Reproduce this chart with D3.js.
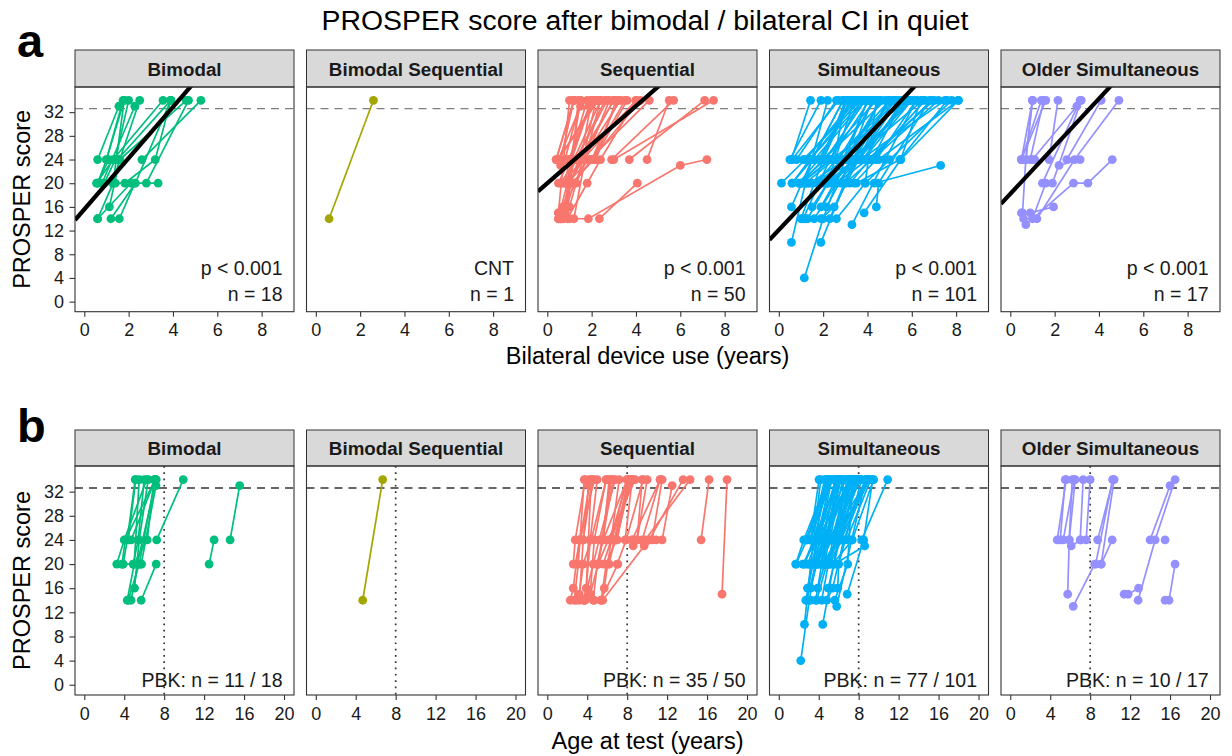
<!DOCTYPE html>
<html>
<head>
<meta charset="utf-8">
<script src="https://cdn.jsdelivr.net/npm/d3@7"></script>
<style>
  body { margin: 0; background: #fff; }
  svg text { font-family: "Liberation Sans", Arial, sans-serif; }
</style>
</head>
<body>
<svg id="chart" width="1232" height="756"></svg>
<script>
// grupos y colores (paleta ggplot)
const groups = ["Bimodal", "Bimodal Sequential", "Sequential", "Simultaneous", "Older Simultaneous"];
const groupColors = ["#00BF7D", "#A3A500", "#F8766D", "#00B0F6", "#9590FF"];

const pLabels = ["p < 0.001", "CNT", "p < 0.001", "p < 0.001", "p < 0.001"];
const nLabels = ["n = 18", "n = 1", "n = 50", "n = 101", "n = 17"];
const pbkLabels = ["PBK: n = 11 / 18", "", "PBK: n = 35 / 50", "PBK: n = 77 / 101", "PBK: n = 10 / 17"];

// recta de regresion (score = intercept + slope * years)
const regIntercept = [15.6, null, 20.0, 12.1, 18.2];
const regSlope = [4.32, null, 3.26, 3.96, 4.02];

const yTicks = [0, 4, 8, 12, 16, 20, 24, 28, 32];
const xTicksUse = [0, 2, 4, 6, 8];
const xTicksAge = [0, 4, 8, 12, 16, 20];
const targetScore = 32.6;
const ageCutoff = 8;

// cada sujeto: [edad al implante bilateral, [[anos de uso, PROSPER], ...]]
const bimodalSubjects = [
  [3.7, [[0.6, 14], [1.3, 20], [1.8, 34]]],
  [3.2, [[1.2, 14], [2.3, 20], [3.9, 34]]],
  [5.1, [[0.6, 14], [2.1, 20]]],
  [3.9, [[1.13, 16], [1.6, 24], [2.5, 34]]],
  [2.7, [[0.55, 20], [1.3, 24], [3.55, 34]]],
  [14.0, [[0.6, 24], [1.56, 33]]],
  [4.9, [[0.8, 20], [2.28, 33]]],
  [3.4, [[1.0, 24], [1.75, 34]]],
  [2.5, [[1.28, 20], [1.6, 24], [4.6, 34]]],
  [4.65, [[2.6, 24], [5.26, 34]]],
  [11.9, [[0.6, 20], [1.1, 24]]],
  [3.1, [[1.83, 20], [3.2, 24], [3.9, 34]]],
  [2.4, [[1.4, 20], [3.33, 20]]],
  [2.5, [[2.8, 20], [4.7, 34]]],
  [3.3, [[0.6, 20], [1.0, 24], [1.8, 34]]],
  [4.0, [[0.9, 20], [1.4, 24], [2.0, 34]]],
  [3.2, [[1.5, 24], [3.9, 34]]],
  [3.1, [[1.58, 14], [2.28, 20]]]
];

const bimodalSeqSubjects = [
  [4.1, [[0.6, 14], [2.6, 34]]]
];

const sequentialSubjects = [
  [17.0, [[0.5, 15], [1.0, 34]]],
  [15.0, [[0.4, 24], [1.2, 34]]],
  [11.0, [[0.5, 24], [1.5, 33]]],
  [6.8, [[3.0, 24], [7.5, 34]]],
  [6.5, [[3.7, 24], [7.1, 34]]],
  [6.0, [[4.5, 24], [5.5, 34]]],
  [5.6, [[2.9, 24], [5.7, 34]]],
  [3.7, [[1.0, 14], [1.85, 14], [6.0, 23], [7.2, 24]]],
  [3.0, [[2.35, 14], [4.06, 20]]],
  [2.2, [[0.5, 14], [0.9, 20], [1.5, 34]]],
  [2.5, [[0.7, 14], [1.1, 24], [2.0, 34]]],
  [1.6, [[0.7, 14], [1.0, 16], [1.6, 24]]],
  [3.0, [[0.6, 14], [0.9, 16], [1.4, 34]]],
  [2.0, [[0.8, 20], [1.3, 24], [2.7, 34]]],
  [4.0, [[0.6, 14], [1.0, 20], [1.6, 24], [2.2, 34]]],
  [3.5, [[0.8, 15], [1.2, 24], [2.4, 34]]],
  [4.5, [[0.5, 20], [1.0, 24], [1.8, 34]]],
  [5.0, [[0.7, 16], [1.4, 24], [3.0, 34]]],
  [2.8, [[0.9, 14], [1.8, 20], [2.4, 24], [4.0, 34]]],
  [6.0, [[0.4, 24], [1.2, 34]]],
  [5.5, [[0.6, 20], [1.3, 24], [2.6, 34]]],
  [7.0, [[0.8, 24], [1.5, 34]]],
  [4.2, [[0.9, 20], [1.9, 24], [4.6, 34]]],
  [3.3, [[1.0, 24], [2.2, 24], [3.1, 34]]],
  [8.0, [[0.6, 23], [1.0, 24], [2.0, 34]]],
  [7.5, [[1.0, 24], [1.5, 24], [2.0, 34]]],
  [2.4, [[0.5, 14], [0.8, 15], [1.2, 20], [2.0, 24], [3.5, 34]]],
  [4.8, [[0.6, 14], [1.1, 20], [2.1, 24], [3.6, 34]]],
  [6.3, [[0.7, 20], [1.6, 24], [3.3, 34]]],
  [9.0, [[0.5, 24], [2.3, 34]]],
  [3.8, [[0.5, 15], [1.3, 20], [2.8, 34]]],
  [5.2, [[1.0, 20], [1.5, 24], [3.0, 34]]],
  [2.6, [[1.2, 14], [1.7, 24], [2.4, 34]]],
  [4.4, [[1.2, 20], [2.0, 24], [4.2, 34]]],
  [3.0, [[0.6, 24], [1.2, 34]]],
  [5.8, [[0.5, 24], [2.2, 34]]],
  [1.8, [[0.8, 20], [1.0, 24], [2.0, 34]]],
  [4.0, [[1.6, 24], [4.0, 34]]],
  [2.3, [[1.0, 24], [1.9, 33]]],
  [5.0, [[2.0, 24], [3.2, 34]]]
];

const simultaneousSubjects = [
  [1.05, [[1.15, 4], [2.0, 14], [4.0, 34]]],
  [1.6, [[0.12, 20], [1.2, 24], [3.5, 34]]],
  [2.6, [[0.57, 24], [1.43, 34]]],
  [2.3, [[0.57, 16], [1.5, 24], [2.9, 34]]],
  [2.0, [[0.57, 10], [1.2, 20], [2.2, 34]]],
  [2.5, [[1.9, 10], [3.0, 20], [4.5, 34]]],
  [2.8, [[2.15, 16], [3.3, 24], [5.0, 34]]],
  [3.0, [[3.85, 15], [5.5, 24], [6.4, 34]]],
  [1.3, [[4.3, 20], [7.3, 23]]],
  [2.5, [[3.3, 13], [4.8, 24], [6.2, 34]]],
  [2.7, [[1.0, 14], [2.0, 24], [3.2, 34]]],
  [1.5, [[1.3, 14], [2.2, 20], [3.0, 24], [5.5, 34]]],
  [1.7, [[0.9, 20], [1.8, 24], [3.3, 34]]],
  [2.2, [[1.6, 14], [2.6, 20], [3.6, 24], [5.2, 34]]],
  [3.0, [[2.6, 14], [3.9, 20], [4.4, 34]]],
  [1.2, [[2.0, 20], [3.1, 24], [4.6, 34]]],
  [1.4, [[1.0, 20], [2.4, 24], [5.8, 34]]],
  [2.0, [[2.2, 24], [3.8, 24], [6.0, 34]]],
  [1.8, [[1.5, 20], [2.8, 20], [4.2, 34]]],
  [2.4, [[0.8, 24], [2.6, 34]]],
  [1.5, [[4.4, 16], [4.5, 20], [6.8, 34]]],
  [3.5, [[1.2, 20], [2.5, 24], [3.0, 34]]],
  [1.3, [[1.4, 24], [3.6, 34]]],
  [1.9, [[2.6, 20], [4.0, 24], [7.0, 34]]],
  [1.9, [[3.5, 20], [5.46, 24], [7.6, 34]]],
  [1.0, [[3.0, 24], [4.5, 24], [8.1, 34]]],
  [2.8, [[5.5, 24], [8.1, 34]]],
  [1.6, [[1.8, 20], [2.9, 24], [4.0, 34]]],
  [2.0, [[1.2, 14], [2.3, 14], [3.4, 24], [5.0, 34]]],
  [1.7, [[2.4, 20], [3.3, 24], [6.5, 34]]],
  [2.4, [[2.0, 24], [4.8, 34]]],
  [1.1, [[0.6, 20], [1.4, 24], [3.8, 34]]],
  [2.6, [[1.5, 24], [2.8, 24], [5.3, 34]]],
  [1.8, [[3.2, 20], [4.1, 24], [6.9, 34]]],
  [3.2, [[0.9, 20], [2.1, 24], [3.9, 34]]],
  [2.2, [[0.6, 24], [2.7, 34]]],
  [2.9, [[1.9, 14], [2.5, 16], [3.6, 24], [5.9, 34]]],
  [1.4, [[2.2, 20], [3.7, 24], [7.5, 34]]],
  [2.3, [[1.4, 20], [3.0, 24], [4.6, 34]]],
  [1.9, [[1.2, 24], [3.4, 34]]],
  [2.5, [[1.0, 20], [2.3, 24], [3.7, 34]]],
  [1.2, [[3.9, 20], [5.0, 24], [7.8, 34]]],
  [2.7, [[0.5, 24], [1.9, 34]]],
  [1.7, [[2.0, 24], [3.0, 34]]],
  [3.3, [[0.6, 20], [1.5, 24], [2.9, 34]]],
  [1.6, [[2.7, 24], [4.3, 34]]],
  [2.1, [[3.0, 20], [4.2, 24], [5.6, 34]]],
  [1.3, [[1.9, 16], [2.5, 20], [3.3, 24], [6.0, 34]]],
  [1.5, [[1.0, 20], [2.0, 24], [4.4, 34]]],
  [2.0, [[1.6, 24], [3.9, 34]]],
  [1.8, [[2.6, 24], [5.2, 34]]],
  [1.4, [[3.4, 20], [4.4, 24], [6.2, 34]]],
  [2.3, [[2.1, 20], [3.5, 24], [5.8, 34]]],
  [1.6, [[1.1, 14], [2.3, 24], [4.1, 34]]],
  [2.6, [[2.4, 24], [4.2, 24], [6.6, 34]]],
  [1.2, [[1.7, 20], [2.6, 24], [5.0, 34]]],
  [2.0, [[3.6, 24], [5.4, 34]]],
  [1.7, [[1.3, 20], [3.8, 24], [5.6, 34]]],
  [2.4, [[1.5, 16], [2.2, 20], [3.4, 34]]],
  [1.9, [[4.2, 24], [7.2, 34]]],
  [3.0, [[1.1, 24], [3.7, 34]]],
  [1.5, [[2.9, 20], [3.6, 24], [4.9, 34]]],
  [2.2, [[1.9, 24], [3.1, 34]]]
];

const olderSimSubjects = [
  [4.5, [[0.5, 24], [1.0, 34]]],
  [5.2, [[0.55, 15], [0.7, 24], [1.0, 34]]],
  [5.6, [[0.7, 13], [2.85, 20], [3.5, 20], [4.6, 24]]],
  [10.9, [[0.5, 15], [0.9, 15], [1.95, 16]]],
  [11.6, [[1.2, 14], [2.9, 24], [4.9, 34]]],
  [13.0, [[1.0, 24], [3.0, 33]]],
  [14.9, [[0.6, 14], [1.0, 14], [1.6, 20]]],
  [14.4, [[1.1, 24]]],
  [4.2, [[0.5, 24], [1.4, 34]]],
  [4.8, [[0.5, 24], [1.6, 34]]],
  [5.0, [[0.9, 24], [1.5, 34]]],
  [6.3, [[0.7, 24], [1.0, 34]]],
  [5.85, [[1.75, 24], [2.15, 34]]],
  [6.2, [[2.55, 24], [4.1, 34]]],
  [3.9, [[2.2, 23], [3.15, 24]]],
  [7.1, [[1.45, 20], [3.15, 34]]],
  [7.2, [[1.9, 20], [3.2, 34]]]
];

const groupSubjects = [bimodalSubjects, bimodalSeqSubjects, sequentialSubjects, simultaneousSubjects, olderSimSubjects];

const svg = d3.select("#chart");
const facetW = 219;
const facetLeft = i => 75 + i * 231.5;
const font = '"Liberation Sans", Arial, sans-serif';

// titulo
svg.append("text")
  .attr("x", 645).attr("y", 30)
  .attr("text-anchor", "middle")
  .style("font-size", "28.4px")
  .attr("fill", "#000")
  .text("PROSPER score after bimodal / bilateral CI in quiet");

function drawRow(row) {
  const y = d3.scaleLinear().domain([-1.7, 36.25]).range([row.panelBottom, row.panelTop]);

  svg.append("text")
    .attr("x", 17).attr("y", row.letterY)
    .style("font-size", "47px").style("font-weight", "bold")
    .text(row.letter);

  groups.forEach((name, i) => {
    const left = facetLeft(i);
    const x = d3.scaleLinear().domain(row.xDomain).range([0, facetW]);
    const g = svg.append("g").attr("transform", `translate(${left},0)`);

    const clipId = `clip-${row.letter}-${i}`;
    g.append("clipPath").attr("id", clipId)
      .append("rect")
      .attr("x", 0).attr("y", row.panelTop)
      .attr("width", facetW).attr("height", row.panelBottom - row.panelTop);

    // strip
    g.append("rect")
      .attr("x", 0).attr("y", row.stripTop)
      .attr("width", facetW).attr("height", row.panelTop - row.stripTop)
      .attr("fill", "#d9d9d9").attr("stroke", "#333").attr("stroke-width", 1);
    g.append("text")
      .attr("x", facetW / 2).attr("y", (row.stripTop + row.panelTop) / 2 + 7.2)
      .attr("text-anchor", "middle")
      .style("font-size", "18.8px").style("font-weight", "bold")
      .attr("fill", "#1a1a1a")
      .text(name);

    const plot = g.append("g").attr("clip-path", `url(#${clipId})`);

    // linea de referencia
    plot.append("line")
      .attr("x1", 0).attr("x2", facetW)
      .attr("y1", y(targetScore)).attr("y2", y(targetScore))
      .attr("stroke", row.dashColor).attr("stroke-width", 1.4)
      .attr("stroke-dasharray", "8,6");

    if (row.vline !== null) {
      plot.append("line")
        .attr("x1", x(row.vline)).attr("x2", x(row.vline))
        .attr("y1", row.panelTop).attr("y2", row.panelBottom)
        .attr("stroke", "#333").attr("stroke-width", 1.7)
        .attr("stroke-dasharray", "1.7,4.6");
    }

    const subjects = groupSubjects[i];
    const line = d3.line()
      .x(d => x(row.getX(d)))
      .y(d => y(d.score));

    const tracks = subjects.map(([age, pts]) => pts.map(([use, score]) => ({ age, use, score })));

    plot.selectAll(".track")
      .data(tracks)
      .enter()
      .append("path")
      .attr("class", "track")
      .attr("d", line)
      .attr("fill", "none")
      .attr("stroke", groupColors[i])
      .attr("stroke-width", 1.7);

    plot.selectAll(".pt")
      .data(tracks.flat())
      .enter()
      .append("circle")
      .attr("class", "pt")
      .attr("cx", d => x(row.getX(d)))
      .attr("cy", d => y(d.score))
      .attr("r", 4.4)
      .attr("fill", groupColors[i]);

    if (row.showReg && regSlope[i] !== null) {
      const xs = row.xDomain;
      plot.append("line")
        .attr("x1", x(xs[0])).attr("y1", y(regIntercept[i] + regSlope[i] * xs[0]))
        .attr("x2", x(xs[1])).attr("y2", y(regIntercept[i] + regSlope[i] * xs[1]))
        .attr("stroke", "#000").attr("stroke-width", 4.2);
    }

    // borde del panel
    g.append("rect")
      .attr("x", 0).attr("y", row.panelTop)
      .attr("width", facetW).attr("height", row.panelBottom - row.panelTop)
      .attr("fill", "none").attr("stroke", "#333").attr("stroke-width", 1.1);

    // eje x
    const xAxis = g.append("g")
      .attr("transform", `translate(0,${row.panelBottom})`)
      .call(d3.axisBottom(x).tickValues(row.xTicks).tickSize(5).tickPadding(7).tickSizeOuter(0));
    xAxis.select(".domain").remove();
    xAxis.selectAll("line").attr("stroke", "#333").attr("stroke-width", 1.1);
    xAxis.selectAll("text").attr("fill", "#1a1a1a").style("font-size", "18px").style("font-family", font);

    if (i === 0) {
      const yAxis = g.append("g")
        .call(d3.axisLeft(y).tickValues(yTicks).tickSize(5.5).tickPadding(5.5));
      yAxis.select(".domain").remove();
      yAxis.selectAll("line").attr("stroke", "#333").attr("stroke-width", 1.1);
      yAxis.selectAll("text").attr("fill", "#1a1a1a").style("font-size", "18px").style("font-family", font);
    }

    // anotaciones
    row.notes.forEach(note => {
      const txt = note.labels[i];
      if (!txt) return;
      g.append("text")
        .attr("x", facetW - 11.5).attr("y", row.panelBottom - note.offset)
        .attr("text-anchor", "end")
        .style("font-size", "19.5px")
        .attr("fill", "#1a1a1a")
        .text(txt);
    });
  });

  // titulos de ejes
  svg.append("text")
    .attr("transform", `translate(30,${(row.panelTop + row.panelBottom) / 2}) rotate(-90)`)
    .attr("text-anchor", "middle")
    .style("font-size", "23.5px")
    .attr("fill", "#000")
    .text("PROSPER score");

  svg.append("text")
    .attr("x", 647.5).attr("y", row.xTitleY)
    .attr("text-anchor", "middle")
    .style("font-size", "23.5px")
    .attr("fill", "#000")
    .text(row.xTitle);
}

drawRow({
  letter: "a", letterY: 57,
  stripTop: 50, panelTop: 87, panelBottom: 311.7,
  xDomain: [-0.42, 9.46], xTicks: xTicksUse,
  getX: d => d.use,
  showReg: true, dashColor: "#7f7f7f", vline: null,
  xTitle: "Bilateral device use (years)", xTitleY: 364,
  notes: [{ labels: pLabels, offset: 37 }, { labels: nLabels, offset: 10.5 }]
});

drawRow({
  letter: "b", letterY: 442,
  stripTop: 430, panelTop: 466, panelBottom: 695,
  xDomain: [-0.93, 21.0], xTicks: xTicksAge,
  getX: d => d.age + d.use,
  showReg: false, dashColor: "#333", vline: ageCutoff,
  xTitle: "Age at test (years)", xTitleY: 749,
  notes: [{ labels: pbkLabels, offset: 8.5 }]
});
</script>
</body>
</html>
